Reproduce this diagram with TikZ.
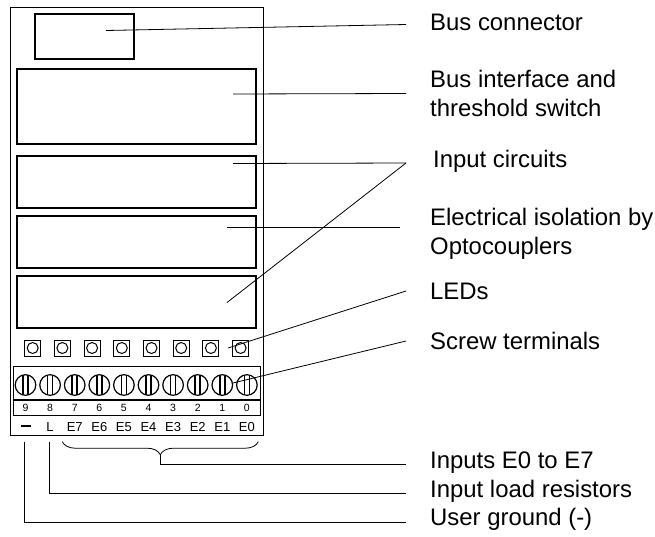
\documentclass[tikz,border=0pt]{standalone}
\usepackage{fontspec}
\setmainfont{Liberation Sans}
\usetikzlibrary{positioning, decorations.pathreplacing}

\begin{document}
\begin{tikzpicture}[
    x=1pt, y=-1pt,
    case/.style={rectangle, draw, line width=1pt, minimum width=252.7pt, minimum height=428pt, outer sep=0pt, inner sep=0pt},
    panel/.style={rectangle, draw, line width=1.8pt, minimum width=238.7pt, outer sep=0pt, inner sep=0pt},
    led/.style={rectangle, draw, line width=1pt, minimum size=16pt, outer sep=0pt, inner sep=0pt, path picture={\draw[line width=1pt] (path picture bounding box.center) circle (5.5pt);}},
    screw/.style={circle, draw, line width=1.2pt, minimum size=20.6pt, outer sep=0pt, inner sep=0pt, path picture={
        \draw[line width=1.5pt] ([xshift=-2.5pt]path picture bounding box.north) -- ([xshift=-2.5pt]path picture bounding box.south);
        \draw[line width=1.5pt] ([xshift=2.5pt]path picture bounding box.north) -- ([xshift=2.5pt]path picture bounding box.south);}},
    digit/.style={font=\fontsize{10.5}{12}\selectfont, inner sep=0pt, text height=7.6pt, text depth=0pt},
    pinname/.style={font=\fontsize{13}{15}\selectfont, inner sep=0pt, text height=9.4pt, text depth=0pt},
    caption/.style={font=\fontsize{23.9}{28.6}\selectfont, align=left, inner sep=0pt, anchor=west},
    leader/.style={draw, line width=0.8pt}
]
\useasboundingbox (0,0) rectangle (655,536);

% Housing
\node[case, anchor=north west] (housing) at (10.3,7) {};
\node[panel, anchor=north west, minimum width=99pt, minimum height=45pt] (busconn) at (35,14.3) {};

% Function blocks
\node[panel, anchor=north west, minimum height=75pt] (iface) at (17.3,69) {};
\node[panel, below=12pt of iface, minimum height=52pt] (inputa) {};
\node[panel, below=8pt of inputa, minimum height=52pt] (isolation) {};
\node[panel, below=8pt of isolation, minimum height=52pt] (inputb) {};

% LEDs
\node[led] (led7) at (32.7,348) {};
\node[led, right=13.7pt of led7] (led6) {};
\node[led, right=13.7pt of led6] (led5) {};
\node[led, right=13.7pt of led5] (led4) {};
\node[led, right=13.7pt of led4] (led3) {};
\node[led, right=13.7pt of led3] (led2) {};
\node[led, right=13.7pt of led2] (led1) {};
\node[led, right=13.7pt of led1] (led0) {};

% Screw terminals
\node[rectangle, draw, line width=1pt, anchor=north west, minimum width=246.7pt, minimum height=49pt, outer sep=0pt] (strip) at (13.3,366) {};
\node[rectangle, fill, anchor=north west, minimum width=246.7pt, minimum height=2pt, inner sep=0pt, outer sep=0pt] (divider) at (13.3,399) {};
\node[screw] (screw9) at (25.5,385) {};
\node[screw, right=4pt of screw9] (screw8) {};
\node[screw, right=4pt of screw8] (screw7) {};
\node[screw, right=4pt of screw7] (screw6) {};
\node[screw, right=4pt of screw6] (screw5) {};
\node[screw, right=4pt of screw5] (screw4) {};
\node[screw, right=4pt of screw4] (screw3) {};
\node[screw, right=4pt of screw3] (screw2) {};
\node[screw, right=4pt of screw2] (screw1) {};
\node[screw, right=4pt of screw1] (screw0) {};

% Terminal numbers
\node[digit] (num9) at (screw9 |- 0,408) {9};
\node[digit] (num8) at (screw8 |- 0,408) {8};
\node[digit] (num7) at (screw7 |- 0,408) {7};
\node[digit] (num6) at (screw6 |- 0,408) {6};
\node[digit] (num5) at (screw5 |- 0,408) {5};
\node[digit] (num4) at (screw4 |- 0,408) {4};
\node[digit] (num3) at (screw3 |- 0,408) {3};
\node[digit] (num2) at (screw2 |- 0,408) {2};
\node[digit] (num1) at (screw1 |- 0,408) {1};
\node[digit] (num0) at (screw0 |- 0,408) {0};

% Terminal names
\node[rectangle, fill, minimum width=10pt, minimum height=2pt, inner sep=0pt, outer sep=0pt] (minus) at (screw9 |- 0,426) {};
\node[pinname] (pinL) at (screw8 |- 0,426.5) {L};
\node[pinname] (pinE7) at (screw7 |- 0,426.5) {E7};
\node[pinname] (pinE6) at (screw6 |- 0,426.5) {E6};
\node[pinname] (pinE5) at (screw5 |- 0,426.5) {E5};
\node[pinname] (pinE4) at (screw4 |- 0,426.5) {E4};
\node[pinname] (pinE3) at (screw3 |- 0,426.5) {E3};
\node[pinname] (pinE2) at (screw2 |- 0,426.5) {E2};
\node[pinname] (pinE1) at (screw1 |- 0,426.5) {E1};
\node[pinname] (pinE0) at (screw0 |- 0,426.5) {E0};

% Captions
\node[caption] (capbus) at (430,22) {Bus connector};
\node[caption] (capiface) at (430,93.5) {Bus interface and\\threshold switch};
\node[caption] (capinput) at (433,161) {Input circuits};
\node[caption] (capiso) at (430,234) {Electrical isolation by\\Optocouplers};
\node[caption] (capled) at (430,291) {LEDs};
\node[caption] (capscrew) at (430,341) {Screw terminals};
\node[caption] (capinputs) at (430,462.5) {Inputs E0 to E7};
\node[caption] (capload) at (430,491.5) {Input load resistors};
\node[caption] (capgnd) at (430,519.5) {User ground (-)};

% Free ends
\coordinate (busend) at (106,30.5);
\coordinate (ifaceend) at (233,94);
\coordinate (inputaend) at (233,163.5);
\coordinate (isoend) at (227,227);
\coordinate (inputbend) at (227,302.5);
\coordinate (ledend) at (228,348);
\coordinate (screwend) at (233,383);
\coordinate (loadstart) at (49.5,441.7);
\coordinate (gndstart) at (24,441.7);
\coordinate (braceright) at (258.3,441.7);
\coordinate (braceleft) at (62.3,441.7);
\coordinate (bracetip) at (160.3,454.7);

% Leaders
\draw[leader] (busend) -- ([shift={(-24pt,-2.5pt)}]capbus.west);
\draw[leader] (ifaceend) -- ([xshift=-24pt]capiface.west);
\draw[leader] (inputaend) -- ([shift={(-27pt,-2pt)}]capinput.west);
\draw[leader] (inputbend) -- ([shift={(-27pt,-2pt)}]capinput.west);
\draw[leader] (isoend) -- ([shift={(-30pt,7pt)}]capiso.west);
\draw[leader] (ledend) -- ([xshift=-24pt]capled.west);
\draw[leader] (screwend) -- ([xshift=-24pt]capscrew.west);
\draw[leader, decorate, decoration={brace, amplitude=13pt}] (braceright) -- (braceleft);
\draw[leader] (bracetip) |- ([shift={(-24pt,-1.5pt)}]capinputs.west);
\draw[leader] (loadstart) |- ([shift={(-24pt,-1.5pt)}]capload.west);
\draw[leader] (gndstart) |- ([shift={(-24pt,-2.5pt)}]capgnd.west);

\end{tikzpicture}
\end{document}
